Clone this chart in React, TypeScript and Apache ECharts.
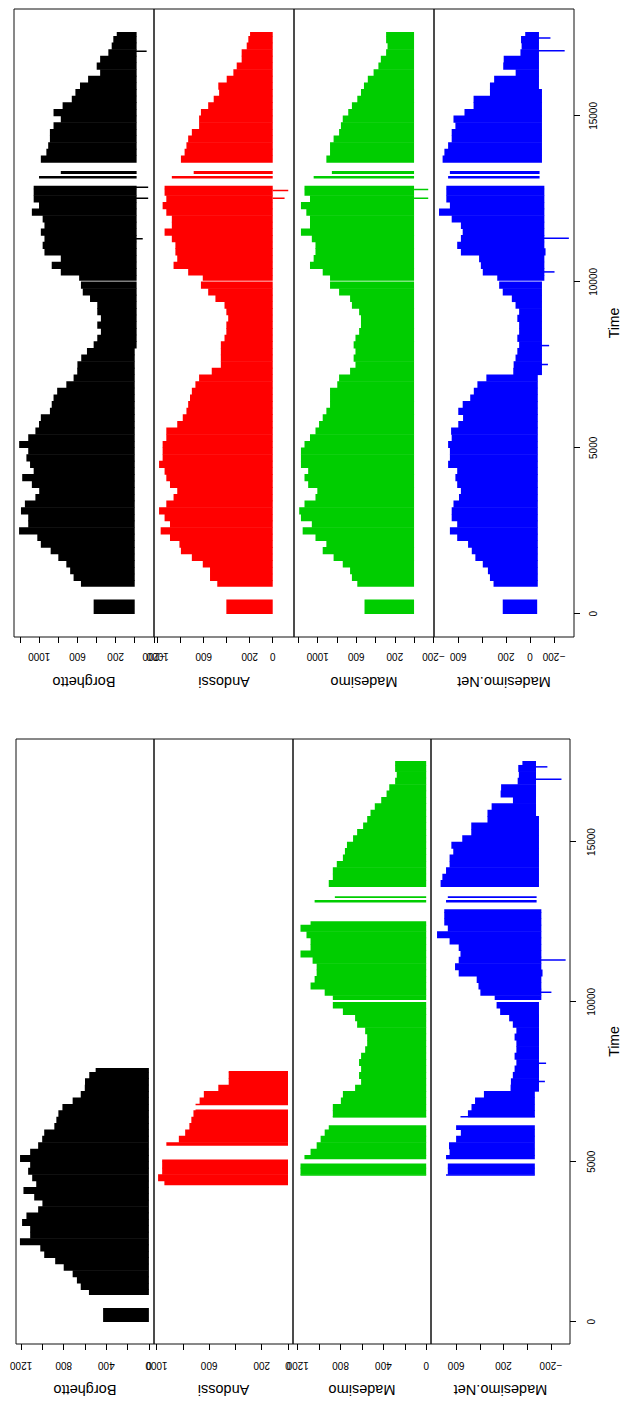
import React, { useEffect, useRef } from 'react';
import * as echarts from 'echarts';

// ---------- DATA (hourly series summarised in time bins) ----------
// bin edges (hours since start)
const TIME_EDGES = [0, 420, 820, 1000, 1200, 1400, 1600, 1800, 2000, 2200, 2400, 2600, 2800, 3000, 3200, 3400, 3600, 3800, 4000, 4200, 4400, 4600, 4800, 5000, 5200, 5400, 5600, 5800, 6000, 6200, 6400, 6600, 6800, 7000, 7200, 7400, 7600, 7800, 8000, 8200, 8400, 8600, 8800, 9000, 9200, 9400, 9600, 9800, 10000, 10040, 10200, 10400, 10600, 10800, 11000, 11200, 11400, 11600, 11800, 12000, 12200, 12400, 12600, 12800, 12890, 13120, 13180, 13260, 13330, 13600, 13800, 14000, 14200, 14400, 14600, 14800, 15000, 15200, 15400, 15600, 15800, 16000, 16200, 16400, 16600, 16800, 17000, 17200, 17400, 17520];

// peak value reached inside each bin
const BORGHETTO_PEAK = [430, null, 563, 640, 676, 716, 800, 880, 983, 1020,
  1211, 1115, 1115, 1191, 1150, 1040, 1000, 1077, 1178, 1058,
  1096, 1134, 1115, 1210, 1115, 1040, 1002, 983, 888, 869,
  850, 812, 716, 640, 602, 600, 560, 500, 430, 392,
  354, 392, 354, 392, 392, 468, 544, 563, null, 582,
  774, 869, 774, 945, 964, 945, 983, 945, 964, 1077,
  1002, 1058, 1058, 1058, null, 1002, null, 774, null, 983,
  925, 906, 888, 888, 850, 774, 850, 755, 659, 621,
  573, 488, 362, 398, 362, 276, 241, 224, 188];

const ANDOSSI_PEAK = [403, null, 482, 545, 545, 608, 703, 798, 811, 893,
  974, 893, 940, 988, 925, 862, 830, 893, 925, 940,
  988, 957, 957, 957, 925, 925, 830, 782, 750, 735,
  719, 703, 672, 640, 530, 451, 451, 451, 451, 419,
  403, 403, 387, 403, 419, 498, 561, 624, null, 608,
  735, 862, 830, 846, 846, 877, 940, 877, 877, 925,
  957, 925, 940, 940, null, 877, null, 687, null, 798,
  766, 750, 735, 703, 640, 640, 624, 561, 513, 466,
  473, 400, 342, 313, 270, 270, 226, 212, 197];

const MADESIMO_PEAK = [514, null, 589, 645, 664, 740, 835, 948, 910, 1023,
  1156, 1061, 1174, 1192, 1137, 1023, 1004, 1099, 1137, 1099,
  1174, 1174, 1174, 1137, 1080, 1023, 986, 948, 910, 872,
  872, 872, 797, 778, 664, 608, 627, 608, 627, 608,
  570, 551, 551, 570, 645, 664, 778, 872, null, 872,
  948, 1080, 1042, 1023, 1023, 1061, 1174, 1080, 1080, 1118,
  1174, 1080, 1137, 1137, null, 1042, null, 853, null, 910,
  872, 872, 835, 778, 759, 740, 683, 645, 589, 551,
  520, 480, 420, 370, 345, 290, 275, 290, 290];

const NET_PEAK = [228, null, 305, 335, 352, 395, 457, 487, 518, 609,
  670, 609, 655, 655, 640, 594, 578, 609, 624, 609,
  685, 670, 670, 685, 655, 660, 600, 560, 600, 563,
  500, 470, 440, 365, 140, 137, 121, 106, 91, 106,
  91, 91, 106, 91, 121, 152, 228, 258, null, 274,
  395, 411, 426, 578, 609, 578, 563, 578, 655, 761,
  670, 700, 700, 700, null, 685, null, 670, null, 731,
  716, 685, 655, 655, 624, 640, 548, 472, 472, 335,
  335, 300, 120, 224, 220, 80, 70, 75, 40];

// lowest level inside each bin
const BORGHETTO_FLOOR = [0, null, 0, 0, 0, 0, 0, 0, 0, 0,
  0, 0, 0, 0, 0, 0, 0, 0, 0, 0,
  0, 0, 0, 0, 0, 0, 0, 0, 0, 0,
  0, 0, 0, 0, 0, 0, 0, 0, -20, -20,
  -20, -20, -20, -20, -20, -20, -20, -20, null, -20,
  -20, -20, -20, -20, -20, -20, -20, -20, -20, -20,
  -20, -20, -20, -20, null, -20, null, -20, null, -20,
  -20, -20, -20, -20, -20, -20, -20, -20, -20, -20,
  -20, -20, -20, -20, -20, -20, -20, -20, -20];
const ANDOSSI_FLOOR = 0;
const MADESIMO_FLOOR = 0;
const NET_FLOOR = [-60, null, -65, -65, -65, -65, -65, -65, -65, -65,
  -65, -65, -65, -65, -65, -65, -65, -65, -65, -65,
  -65, -65, -65, -65, -65, -65, -65, -65, -65, -65,
  -65, -65, -65, -65, -100, -100, -100, -100, -100, -100,
  -100, -100, -100, -100, -100, -100, -100, -100, null, -120,
  -120, -120, -120, -130, -120, -120, -120, -120, -120, -120,
  -120, -120, -120, -120, null, -80, null, -80, null, -100,
  -100, -100, -100, -100, -100, -100, -100, -100, -100, -100,
  -75, -75, -75, -75, -75, -75, -75, -75, -75];

// single-hour negative spikes [time, value]
const BORGHETTO_DIPS = [[11300, -84], [12520, -141], [12850, -141], [16950, -125]];
const ANDOSSI_DIPS = [[12520, -103], [12750, -135]];
const MADESIMO_DIPS = [[12520, -147], [12780, -147]];
const NET_DIPS = [[7510, -150], [8080, -160], [10300, -205], [11313, -325], [16960, -290], [17350, -171]];

// periods with records in the lower (raw) figure
const FULL_PERIOD = [[0, 17520]];
const BORGHETTO_RAW = [[0, 420], [838, 7926]];
const ANDOSSI_RAW = [[4278, 5059], [5507, 6623], [6779, 7821]];
const MADESIMO_RAW = [[4569, 4934], [5091, 6133], [6393, 9990], [10070, 12510], [13080, 13290], [13600, 17520]];
const NET_RAW = [[4569, 4934], [5091, 6133], [6393, 9990], [10070, 12930], [13080, 13290], [13600, 17520]];

const SERIES_NAMES = ['Borghetto', 'Andossi', 'Madesimo', 'Madesimo.Net'];
const TIME_TICKS = [0, 5000, 10000, 15000];
const TIME_RANGE = [-700, 18221];

// value-axis ranges, ticks and printed labels per panel
const FILLED_RANGES = [[-202, 1264], [-185, 1032], [-207, 1246], [-368, 803]];
const FILLED_TICKS = [[-200, 0, 200, 400, 600, 800, 1000, 1200], [0, 200, 400, 600, 800, 1000], [-200, 0, 200, 400, 600, 800, 1000, 1200], [-200, 0, 200, 400, 600]];
const FILLED_LABELS = [[-200, 200, 600, 1000], [0, 200, 600, 1000], [-200, 200, 600, 1000], [-200, 0, 200, 600]];
const RAW_RANGES = [[-48, 1248], [-38, 1019], [-45, 1244], [-362, 812]];
const RAW_TICKS = [[0, 200, 400, 600, 800, 1000, 1200], [0, 200, 400, 600, 800, 1000], [0, 200, 400, 600, 800, 1000, 1200], [-200, 0, 200, 400, 600]];
const RAW_LABELS = [[0, 400, 800, 1200], [0, 200, 600, 1000], [0, 400, 800, 1200], [-200, 200, 600]];

// ---------- LAYOUT (chart is drawn upright, then the page turns it) ----------
const W = 1404;
const H = 627;
const FONT = 'Liberation Sans, Arial, Helvetica, sans-serif';
const COLORS = ['#000000', '#ff0000', '#00cd00', '#0000ff'];
const PEAKS = [BORGHETTO_PEAK, ANDOSSI_PEAK, MADESIMO_PEAK, NET_PEAK];
const FLOORS: any[] = [BORGHETTO_FLOOR, ANDOSSI_FLOOR, MADESIMO_FLOOR, NET_FLOOR];
const DIPS = [BORGHETTO_DIPS, ANDOSSI_DIPS, MADESIMO_DIPS, NET_DIPS];
const RAWS = [BORGHETTO_RAW, ANDOSSI_RAW, MADESIMO_RAW, NET_RAW];

const FIGURES = [
  { left: 767, width: 628, rows: [[14, 140], [154, 140], [294, 140], [434, 140]], ranges: FILLED_RANGES, ticks: FILLED_TICKS, labels: FILLED_LABELS, raw: false, labelMargin: 14, nameGap: 37, timeMargin: 14, timeGap: 33 },
  { left: 60, width: 605, rows: [[16, 138], [154, 139], [293, 138], [431, 139]], ranges: RAW_RANGES, ticks: RAW_TICKS, labels: RAW_LABELS, raw: true, labelMargin: 16, nameGap: 38, timeMargin: 16, timeGap: 37 },
];

function fmt(v: number) {
  return v < 0 ? '\u2212' + Math.abs(v) : String(v);
}

function buildBars(k: number, avail: number[][]) {
  const peak = PEAKS[k];
  const floor = FLOORS[k];
  const out: number[][] = [];
  for (let i = 0; i < peak.length; i++) {
    const hi = peak[i];
    const lo = typeof floor === 'number' ? floor : floor[i];
    if (hi == null || lo == null) continue;
    const s = TIME_EDGES[i];
    const e = TIME_EDGES[i + 1];
    for (const [a, b] of avail) {
      const s2 = Math.max(s, a);
      const e2 = Math.min(e, b);
      if (e2 > s2) out.push([s2, e2, lo, hi]);
    }
  }
  for (const [t, v] of DIPS[k]) {
    if (avail.some(([a, b]) => t >= a && t <= b)) out.push([t - 14, t + 14, v, 0]);
  }
  return out;
}

function buildOption() {
  const grid: any[] = [];
  const xAxis: any[] = [];
  const yAxis: any[] = [];
  const series: any[] = [];
  FIGURES.forEach((fig) => {
    for (let k = 0; k < 4; k++) {
      const idx = grid.length;
      const [top, height] = fig.rows[k];
      grid.push({ left: fig.left, top, width: fig.width, height, show: true, borderColor: '#111', borderWidth: 1, backgroundColor: 'transparent' });
      const last = k === 3;
      xAxis.push({
        type: 'value', gridIndex: idx, min: TIME_RANGE[0], max: TIME_RANGE[1],
        show: last, position: 'bottom',
        axisLine: { show: false, onZero: false },
        splitLine: { show: false },
        axisTick: { show: last, customValues: TIME_TICKS, length: 6, lineStyle: { color: '#000', width: 1 } },
        axisLabel: { show: last, customValues: TIME_TICKS, formatter: (v: number) => fmt(v), fontSize: 10, color: '#000', fontFamily: FONT, margin: fig.timeMargin },
        name: last ? 'Time' : '', nameLocation: 'middle', nameGap: fig.timeGap,
        nameTextStyle: { fontSize: 14, color: '#000', fontFamily: FONT },
      });
      yAxis.push({
        type: 'value', gridIndex: idx, min: fig.ranges[k][0], max: fig.ranges[k][1],
        position: 'left',
        axisLine: { show: false, onZero: false },
        splitLine: { show: false },
        axisTick: { show: true, customValues: fig.ticks[k], length: 6, lineStyle: { color: '#000', width: 1 } },
        axisLabel: { customValues: fig.labels[k], formatter: (v: number) => fmt(v), rotate: 90, fontSize: 10, color: '#000', fontFamily: FONT, margin: fig.labelMargin },
        name: SERIES_NAMES[k], nameLocation: 'middle', nameRotate: 90, nameGap: fig.nameGap,
        nameTextStyle: { fontSize: 14.5, color: '#000', fontFamily: FONT },
      });
      const color = COLORS[k];
      series.push({
        type: 'custom', xAxisIndex: idx, yAxisIndex: idx, clip: true, silent: true,
        data: buildBars(k, fig.raw ? RAWS[k] : FULL_PERIOD),
        dimensions: ['t0', 't1', 'lo', 'hi'],
        encode: { x: [0, 1], y: [2, 3] },
        renderItem: (params: any, api: any) => {
          const a = api.coord([api.value(0), api.value(3)]);
          const b = api.coord([api.value(1), api.value(2)]);
          if (![a[0], a[1], b[0], b[1]].every((n) => Number.isFinite(n))) return null;
          const x0 = Math.min(a[0], b[0]);
          const w = Math.max(Math.abs(b[0] - a[0]), 0.8);
          return {
            type: 'rect',
            shape: { x: x0 - 0.3, y: a[1], width: w + 0.6, height: Math.max(b[1] - a[1], 0.8) },
            style: { fill: color },
          };
        },
      });
    }
  });
  return { animation: false, backgroundColor: '#ffffff', grid, xAxis, yAxis, series };
}

export default function App() {
  const ref = useRef<HTMLDivElement>(null);
  useEffect(() => {
    if (!ref.current) return;
    const chart = echarts.init(ref.current, null, { renderer: 'svg', width: W, height: H });
    chart.setOption(buildOption() as any);
    return () => chart.dispose();
  }, []);
  return (
    <div style={{ position: 'fixed', left: 0, top: 0, width: 627, height: 1404, overflow: 'hidden', background: '#fff' }}>
      <div
        ref={ref}
        style={{ position: 'absolute', left: 0, top: 0, width: W, height: H, transformOrigin: '0 0', transform: 'translate(0px, 1404px) rotate(-90deg)' }}
      />
    </div>
  );
}
